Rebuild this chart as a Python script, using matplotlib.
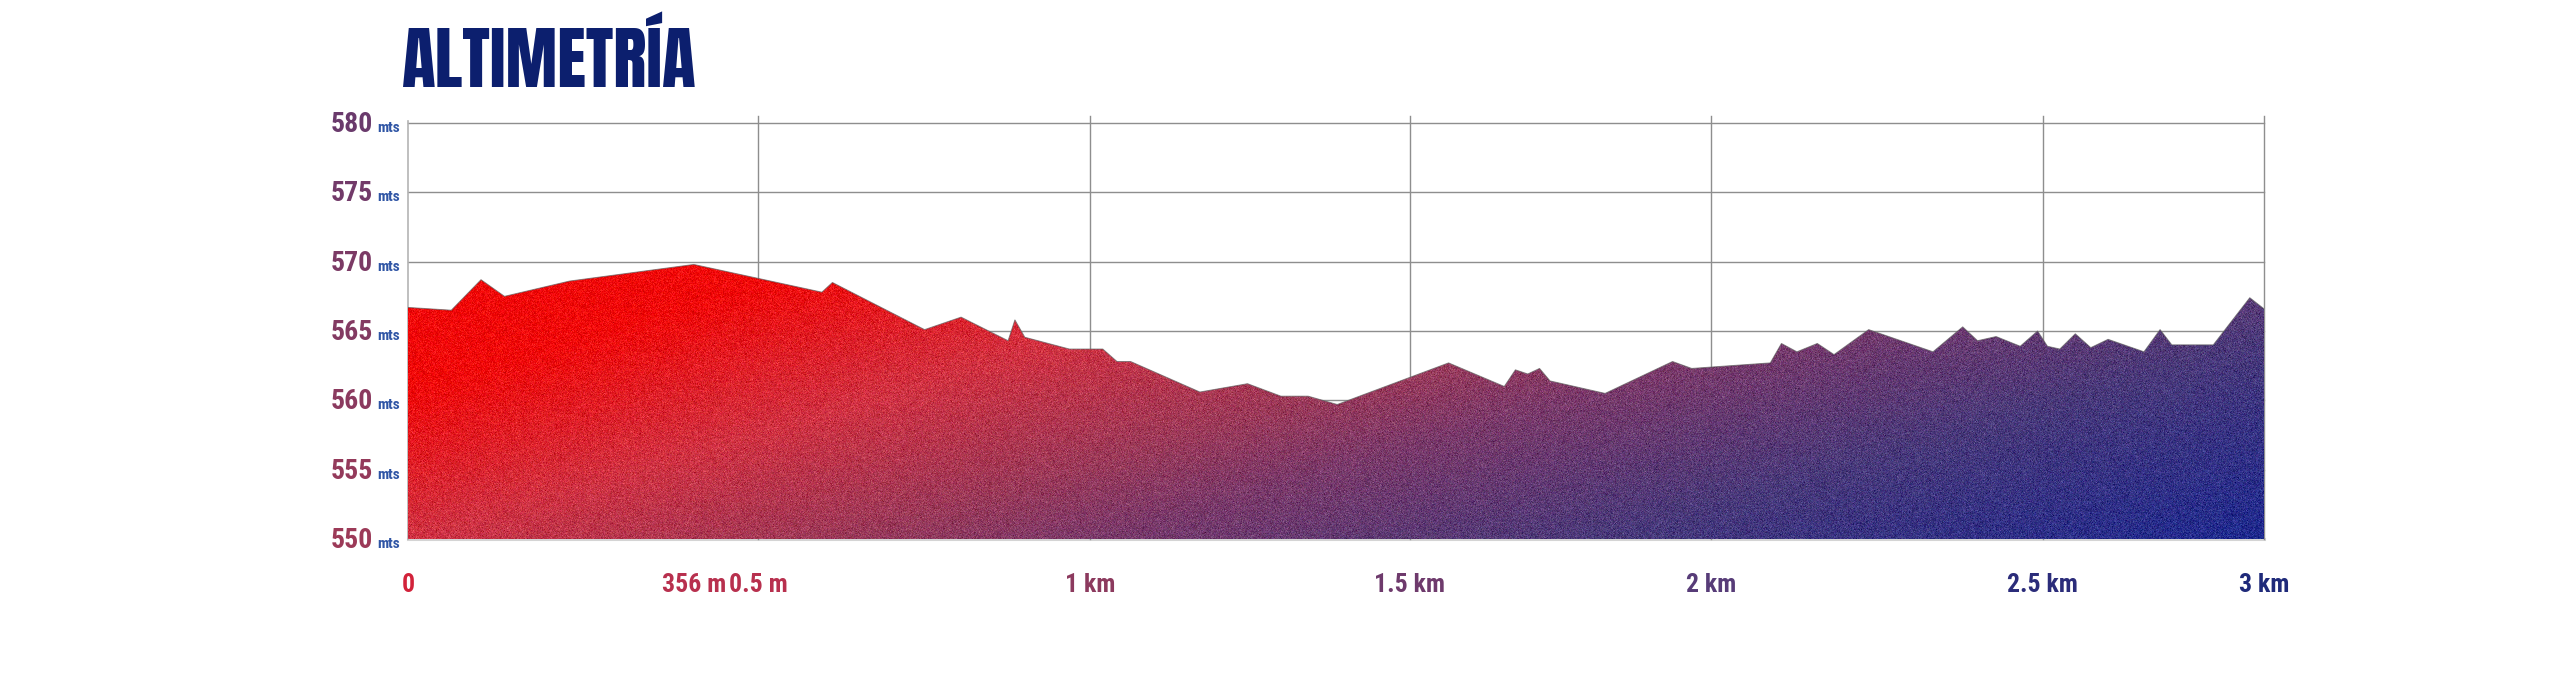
import numpy as np
import matplotlib
matplotlib.use('Agg')
import matplotlib.pyplot as plt
from matplotlib import font_manager
from matplotlib.patches import Polygon
from matplotlib.colors import LinearSegmentedColormap, to_rgb

# ---------------- data ----------------
title = 'ALTIMETRÍA'
# position along the profile (axis units, 0..3 km scale of the chart)
dist_pos = [0.000, 0.070, 0.118, 0.156, 0.261, 0.462, 0.669, 0.686, 0.835, 0.894,
            0.970, 0.981, 0.997, 1.069, 1.123, 1.146, 1.168, 1.280, 1.357, 1.411,
            1.455, 1.502, 1.682, 1.772, 1.790, 1.810, 1.829, 1.846, 1.935, 2.044,
            2.075, 2.202, 2.220, 2.245, 2.278, 2.305, 2.361, 2.465, 2.513, 2.537,
            2.567, 2.606, 2.634, 2.650, 2.670, 2.695, 2.720, 2.748, 2.806, 2.832,
            2.851, 2.918, 2.977, 3.000]
elev = [566.7, 566.5, 568.7, 567.5, 568.6, 569.8, 567.8, 568.5, 565.1, 566.0,
        564.3, 565.8, 564.55, 563.7, 563.7, 562.8, 562.8, 560.6, 561.2, 560.3,
        560.3, 559.7, 562.7, 561.0, 562.2, 561.9, 562.3, 561.4, 560.5, 562.8,
        562.3, 562.7, 564.1, 563.5, 564.1, 563.3, 565.1, 563.5, 565.3, 564.3,
        564.6, 563.9, 565.0, 563.9, 563.7, 564.8, 563.8, 564.4, 563.5, 565.1,
        564.0, 564.0, 567.4, 566.6]
y_ticks = [550, 555, 560, 565, 570, 575, 580]
y_unit = 'mts'
x_tick_pos = [0.0, 0.462, 0.566, 1.102, 1.619, 2.106, 2.642, 3.0]
x_tick_labels = ['0', '356 m', '0.5 m', '1 km', '1.5 km', '2 km', '2.5 km', '3 km']
x_grid_pos = [0.566, 1.102, 1.619, 2.106, 2.642, 3.0]

# ---------------- fonts ----------------
available = {f.name for f in font_manager.fontManager.ttflist}
def pick(cands):
    for c in cands:
        if c in available:
            return [c, 'DejaVu Sans']
    return ['DejaVu Sans']
FONT = pick(['Roboto Condensed', 'Open Sans Condensed', 'Liberation Sans Narrow', 'Roboto'])
TITLE_FONT = pick(['Anton', 'League Gothic', 'Bebas Neue', 'Saira ExtraCondensed',
                   'Sofia Sans Extra Condensed', 'Roboto Condensed'])

# ---------------- style ----------------
x_label_colors = ['#d2223a', '#b8304e', '#b8304e', '#8c3a5e', '#6e3a6c',
                  '#573c78', '#2b2c7a', '#1f2a7a']
y_num_top, y_num_bot = '#6a3a6c', '#9c3a58'
unit_color = '#2f55a5'
grid_color = '#8e8e8e'
title_color = '#0c1f6e'

fig = plt.figure(figsize=(25.6, 6.76), dpi=100)
fig.patch.set_facecolor('white')
W, H = 1856, 416
ax = fig.add_axes([408 / 2560, 137 / 676, W / 2560, H / 676])
ax.set_xlim(0, 3)
ax.set_ylim(550, 580)
ax.axis('off')

# grid
for v in y_ticks[1:]:
    ax.plot([0, 3], [v, v], color=grid_color, lw=1.0, zorder=1, clip_on=False)
ax.plot([0, 3], [550, 550], color='#d4d4d4', lw=2.2, zorder=1, clip_on=False)
top_ext = 580 + 7 * 30 / H
for xp in x_grid_pos:
    ax.plot([xp, xp], [550, top_ext], color=grid_color, lw=1.0, zorder=1, clip_on=False)
ax.plot([0, 0], [550, 580 + 2 * 30 / H], color='#b4b4b4', lw=1.2, zorder=1, clip_on=False)

# gradient image clipped to the profile
cmap = LinearSegmentedColormap.from_list('alt', [
    (0.00, (240/255, 8/255, 8/255)),
    (0.15, (240/255, 10/255, 10/255)),
    (0.33, (208/255, 50/255, 66/255)),
    (0.49, (154/255, 58/255, 90/255)),
    (0.58, (122/255, 58/255, 106/255)),
    (0.70, (90/255, 58/255, 117/255)),
    (0.76, (74/255, 58/255, 122/255)),
    (1.00, (31/255, 42/255, 143/255)),
])
cols = (np.arange(W) + 0.5) / W
rows_elev = 580 - (np.arange(H) + 0.5) / H * 30
top_e = max(elev)
v = np.clip((top_e - rows_elev) / (top_e - 550), 0, 1)
U, V = np.meshgrid(cols, v)
T = np.clip((U + 0.5 * V) / 1.5, 0, 1)
img = cmap(T)[..., :3]
rng = np.random.default_rng(7)
grain = rng.normal(0, 0.045, (H, W, 1)) + rng.normal(0, 0.02, (H, W, 3))
img = np.clip(img + grain, 0, 1)
im = ax.imshow(img, extent=(0, 3, 550, 580), origin='upper', aspect='auto',
               interpolation='nearest', zorder=2)
verts = [(dist_pos[0], 550)] + list(zip(dist_pos, elev)) + [(dist_pos[-1], 550)]
poly = Polygon(verts, closed=True, facecolor='none', edgecolor='none',
               transform=ax.transData)
ax.add_patch(poly)
im.set_clip_path(poly)
ax.plot(dist_pos, elev, color='#606060', lw=0.7, alpha=0.7, zorder=3)

# y labels
ytr = ax.get_yaxis_transform()
c_top, c_bot = np.array(to_rgb(y_num_top)), np.array(to_rgb(y_num_bot))
for yv in y_ticks:
    f = (yv - y_ticks[0]) / (y_ticks[-1] - y_ticks[0])
    col = c_bot * (1 - f) + c_top * f
    ax.annotate(str(yv), xy=(0, yv), xycoords=ytr, xytext=(-35, -9),
                textcoords='offset pixels', ha='right', va='baseline',
                fontsize=20, fontweight='bold', color=col, family=FONT,
                annotation_clip=False)
    ax.annotate(y_unit, xy=(0, yv), xycoords=ytr, xytext=(-31, -9),
                textcoords='offset pixels', ha='left', va='baseline',
                fontsize=11, fontweight='bold', color=unit_color, family=FONT,
                annotation_clip=False)

# x labels
xtr = ax.get_xaxis_transform()
for xp, lab, col in zip(x_tick_pos, x_tick_labels, x_label_colors):
    ax.annotate(lab, xy=(xp, 0), xycoords=xtr, xytext=(0, -46),
                textcoords='offset pixels', ha='center', va='center',
                fontsize=18.5, fontweight='bold', color=col, family=FONT,
                annotation_clip=False)

# title
fig.text(402 / 2560, 1 - 87 / 676, title, ha='left', va='baseline',
         fontsize=50, fontweight='black', color=title_color, family=TITLE_FONT)

fig.savefig('out.png', dpi=100, facecolor='white')
